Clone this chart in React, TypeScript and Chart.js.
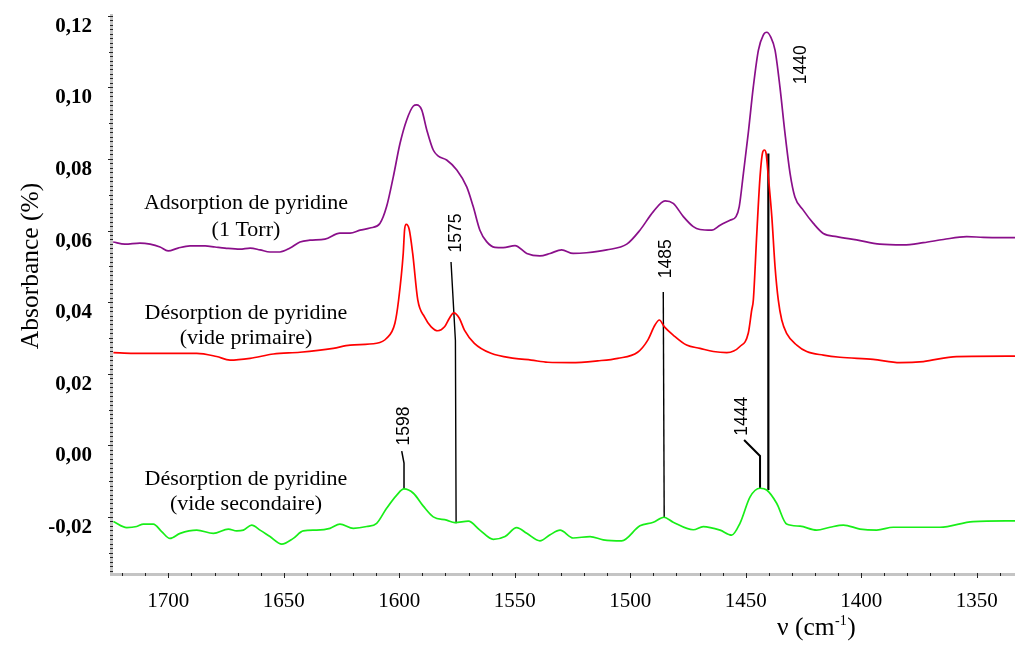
import React, { useEffect, useRef } from "react";
import { Chart, registerables } from "chart.js";

Chart.register(...registerables);

// ---- Spectra (wavenumber cm-1, absorbance) ----
const adsorptionNu = [1723.9, 1718.8, 1712.3, 1707.9, 1703.6, 1700.1, 1695.8, 1690.6, 1684.1, 1679.8, 1675.5, 1669.0, 1664.6, 1660.3, 1656.0, 1651.7, 1647.3, 1643.0, 1638.7, 1632.2, 1625.7, 1621.3, 1617.0, 1612.7, 1608.4, 1605.5, 1602.6, 1599.7, 1596.8, 1593.9, 1592.5, 1590.3, 1588.1, 1585.3, 1583.1, 1579.5, 1575.1, 1570.8, 1568.0, 1565.1, 1562.2, 1558.6, 1555.0, 1549.9, 1544.8, 1539.1, 1534.7, 1529.7, 1524.7, 1518.9, 1510.2, 1501.5, 1495.8, 1490.0, 1484.9, 1481.4, 1477.0, 1472.7, 1469.8, 1464.7, 1461.1, 1456.8, 1454.2, 1452.8, 1451.0, 1448.9, 1446.7, 1444.5, 1442.4, 1440.9, 1439.2, 1437.3, 1435.2, 1433.0, 1430.8, 1428.7, 1425.1, 1420.7, 1416.4, 1410.6, 1402.0, 1391.9, 1381.8, 1373.1, 1364.4, 1354.3, 1347.1, 1333.4];
const adsorptionAbs = [0.0568, 0.0562, 0.0565, 0.0562, 0.0554, 0.0543, 0.0551, 0.0557, 0.0557, 0.0554, 0.0551, 0.0548, 0.0551, 0.0546, 0.0540, 0.0540, 0.0551, 0.0568, 0.0573, 0.0576, 0.0593, 0.0593, 0.0601, 0.0607, 0.0620, 0.0667, 0.0750, 0.0843, 0.0909, 0.0948, 0.0951, 0.0937, 0.0881, 0.0825, 0.0808, 0.0797, 0.0769, 0.0722, 0.0667, 0.0601, 0.0569, 0.0553, 0.0552, 0.0558, 0.0536, 0.0529, 0.0536, 0.0546, 0.0536, 0.0538, 0.0546, 0.0562, 0.0601, 0.0653, 0.0683, 0.0676, 0.0639, 0.0611, 0.0603, 0.0601, 0.0615, 0.0629, 0.0639, 0.0667, 0.0760, 0.0872, 0.1002, 0.1104, 0.1146, 0.1154, 0.1141, 0.1104, 0.1002, 0.0872, 0.0760, 0.0694, 0.0657, 0.0620, 0.0592, 0.0583, 0.0574, 0.0562, 0.0560, 0.0566, 0.0575, 0.0583, 0.0581, 0.0580];

const primaireNu = [1723.8, 1715.2, 1700.7, 1687.7, 1679.1, 1673.3, 1664.6, 1654.5, 1643.0, 1628.6, 1621.3, 1609.8, 1605.5, 1601.9, 1600.3, 1598.3, 1597.7, 1597.0, 1595.7, 1594.2, 1592.0, 1589.1, 1586.2, 1583.3, 1580.4, 1578.3, 1576.4, 1574.0, 1571.8, 1567.5, 1560.3, 1550.1, 1542.9, 1535.7, 1525.6, 1514.1, 1505.4, 1496.8, 1492.4, 1489.3, 1487.4, 1485.2, 1481.4, 1475.6, 1469.8, 1464.0, 1458.2, 1452.5, 1448.9, 1447.4, 1446.7, 1445.2, 1443.8, 1442.6, 1441.9, 1441.2, 1440.2, 1438.7, 1437.3, 1435.9, 1434.4, 1432.3, 1427.9, 1423.6, 1416.4, 1409.2, 1394.8, 1383.2, 1373.1, 1358.7, 1333.4];
const primaireAbs = [0.0259, 0.0257, 0.0257, 0.0257, 0.0248, 0.0238, 0.0243, 0.0255, 0.0260, 0.0271, 0.0280, 0.0285, 0.0299, 0.0341, 0.0406, 0.0536, 0.0603, 0.0617, 0.0603, 0.0536, 0.0406, 0.0359, 0.0331, 0.0320, 0.0331, 0.0355, 0.0370, 0.0355, 0.0322, 0.0285, 0.0257, 0.0243, 0.0238, 0.0232, 0.0231, 0.0236, 0.0243, 0.0260, 0.0294, 0.0336, 0.0350, 0.0331, 0.0308, 0.0280, 0.0271, 0.0262, 0.0259, 0.0276, 0.0313, 0.0378, 0.0406, 0.0592, 0.0750, 0.0820, 0.0825, 0.0816, 0.0750, 0.0639, 0.0499, 0.0406, 0.0350, 0.0313, 0.0280, 0.0262, 0.0252, 0.0246, 0.0240, 0.0231, 0.0234, 0.0248, 0.0249];

const secondaireNu = [1723.8, 1718.0, 1713.7, 1710.8, 1706.5, 1702.9, 1699.3, 1694.9, 1687.7, 1680.5, 1674.0, 1670.4, 1667.5, 1663.9, 1660.3, 1656.0, 1650.9, 1645.9, 1641.6, 1635.8, 1630.0, 1625.7, 1619.9, 1614.1, 1609.8, 1605.5, 1601.1, 1598.0, 1593.9, 1589.6, 1585.3, 1579.5, 1575.9, 1570.1, 1565.1, 1559.3, 1554.2, 1549.2, 1544.8, 1539.1, 1534.7, 1530.4, 1524.7, 1517.4, 1511.7, 1503.7, 1495.8, 1490.0, 1485.4, 1481.4, 1472.7, 1468.4, 1461.1, 1456.1, 1452.5, 1448.1, 1443.8, 1440.9, 1436.6, 1432.3, 1426.5, 1419.3, 1413.5, 1407.7, 1400.5, 1393.3, 1386.1, 1365.9, 1351.5, 1333.4];
const secondaireAbs = [-0.0213, -0.0230, -0.0227, -0.0220, -0.0220, -0.0241, -0.0260, -0.0246, -0.0237, -0.0246, -0.0234, -0.0239, -0.0237, -0.0223, -0.0237, -0.0255, -0.0276, -0.0260, -0.0239, -0.0237, -0.0232, -0.0220, -0.0232, -0.0227, -0.0218, -0.0176, -0.0139, -0.0122, -0.0134, -0.0170, -0.0200, -0.0209, -0.0216, -0.0212, -0.0237, -0.0263, -0.0255, -0.0230, -0.0246, -0.0267, -0.0250, -0.0237, -0.0259, -0.0255, -0.0264, -0.0267, -0.0225, -0.0215, -0.0201, -0.0215, -0.0236, -0.0227, -0.0237, -0.0251, -0.0218, -0.0144, -0.0120, -0.0125, -0.0162, -0.0220, -0.0226, -0.0237, -0.0229, -0.0223, -0.0234, -0.0237, -0.0229, -0.0229, -0.0213, -0.0211];

// ---- Series captions ----
const captionLines = [
  ["Adsorption de pyridine", "(1 Torr)"],
  ["Désorption de pyridine", "(vide primaire)"],
  ["Désorption de pyridine", "(vide secondaire)"],
];
const captionNu = [1666.4, 1666.4, 1666.4];
const captionAbs = [
  [0.0659, 0.0584],
  [0.0353, 0.0283],
  [-0.0111, -0.0181],
];

// ---- Peak annotations ----
const peakLabels = ["1575", "1485", "1440", "1598", "1444"];
const peakLabelNu = [1576.0, 1484.9, 1426.3, 1598.5, 1451.9];
const peakLabelAbs = [0.0593, 0.0521, 0.1063, 0.0054, 0.0081];
const leaderNu = [
  [1577.6, 1575.7, 1575.4],
  [1485.7, 1485.3],
  [1440.2, 1440.2],
  [1598.95, 1597.96, 1597.96],
  [1450.7, 1443.8, 1443.8],
];
const leaderAbs = [
  [0.0512, 0.0293, -0.0218],
  [0.0428, -0.0201],
  [0.0815, -0.0125],
  [-0.0016, -0.0050, -0.0122],
  [0.0015, -0.0030, -0.0120],
];
const leaderWidths = [1.4, 1.4, 2.2, 1.5, 2.0];

// ---- Axes ----
const xMin = 1333.4;
const xMax = 1724.4;
const yMin = -0.0354;
const yMax = 0.1205;
const xTickValues = [1700, 1650, 1600, 1550, 1500, 1450, 1400, 1350];
const xTickLabels = ["1700", "1650", "1600", "1550", "1500", "1450", "1400", "1350"];
const yTickValues = [0.12, 0.1, 0.08, 0.06, 0.04, 0.02, 0.0, -0.02];
const yTickLabels = ["0,12", "0,10", "0,08", "0,06", "0,04", "0,02", "0,00", "-0,02"];
const yTitle = "Absorbance (%)";
const xTitleMain = "ν (cm";
const xTitleSup = "-1";
const xTitleEnd = ")";

const SERIF = '"Liberation Serif", "Times New Roman", serif';
const SANS = '"Liberation Sans", Arial, sans-serif';

function toPoints(xs: number[], ys: number[]) {
  return xs.map((x, i) => ({ x, y: ys[i] }));
}

const decorPlugin = {
  id: "decor",
  afterDatasetsDraw(chart: any) {
    const ctx = chart.ctx as CanvasRenderingContext2D;
    const xs = chart.scales.x;
    const ys = chart.scales.y;
    const area = chart.chartArea;
    ctx.save();

    // captions
    ctx.fillStyle = "#000";
    ctx.font = `22px ${SERIF}`;
    ctx.textAlign = "center";
    ctx.textBaseline = "alphabetic";
    captionLines.forEach((lines, i) => {
      lines.forEach((t, j) => {
        ctx.fillText(t, xs.getPixelForValue(captionNu[i]), ys.getPixelForValue(captionAbs[i][j]));
      });
    });

    // peak labels (rotated)
    ctx.font = `17.5px ${SANS}`;
    ctx.textAlign = "center";
    ctx.textBaseline = "middle";
    peakLabels.forEach((t, i) => {
      ctx.save();
      ctx.translate(xs.getPixelForValue(peakLabelNu[i]), ys.getPixelForValue(peakLabelAbs[i]));
      ctx.rotate(-Math.PI / 2);
      ctx.fillText(t, 0, 1);
      ctx.restore();
    });
    ctx.restore();
  },
  afterDraw(chart: any) {
    const ctx = chart.ctx as CanvasRenderingContext2D;
    const xs = chart.scales.x;
    const ys = chart.scales.y;
    const area = chart.chartArea;
    ctx.save();

    // axis lines (gray, thick)
    ctx.strokeStyle = "#c4c4c4";
    ctx.lineWidth = 3;
    ctx.beginPath();
    ctx.moveTo(area.left - 0.5, area.top);
    ctx.lineTo(area.left - 0.5, area.bottom + 2.5);
    ctx.lineTo(area.right, area.bottom + 2.5);
    ctx.stroke();

    // ticks
    ctx.strokeStyle = "#222";
    ctx.lineWidth = 1;
    ctx.beginPath();
    for (let v = 1340; v <= 1720; v += 10) {
      const px = Math.round(xs.getPixelForValue(v)) + 0.5;
      const major = v % 50 === 0;
      ctx.moveTo(px, area.bottom + 1);
      ctx.lineTo(px, area.bottom + (major ? 6 : 4));
    }
    for (let k = -28; k <= 96; k++) {
      const v = k * 0.00125;
      const py = Math.round(ys.getPixelForValue(v)) + 0.5;
      const major = k % 16 === 0;
      const mid = k % 8 === 0;
      ctx.moveTo(area.left - (major ? 4 : mid ? 3 : 2), py);
      ctx.lineTo(area.left + 1, py);
    }
    ctx.stroke();

    // tick labels
    ctx.fillStyle = "#000";
    ctx.font = `21px ${SERIF}`;
    ctx.textAlign = "center";
    ctx.textBaseline = "alphabetic";
    xTickValues.forEach((v, i) => {
      ctx.fillText(xTickLabels[i], xs.getPixelForValue(v), area.bottom + 35);
    });
    ctx.font = `bold 21px ${SERIF}`;
    ctx.textAlign = "right";
    yTickValues.forEach((v, i) => {
      ctx.fillText(yTickLabels[i], area.left - 20, ys.getPixelForValue(v) + 16);
    });

    // y title
    ctx.font = `25.5px ${SERIF}`;
    ctx.textAlign = "center";
    ctx.save();
    ctx.translate(38, 266);
    ctx.rotate(-Math.PI / 2);
    ctx.fillText(yTitle, 0, 0);
    ctx.restore();

    // x title with superscript
    ctx.textAlign = "left";
    const baseY = 635;
    let x = 777;
    ctx.font = `25.5px ${SERIF}`;
    ctx.fillText(xTitleMain, x, baseY);
    x += ctx.measureText(xTitleMain).width;
    ctx.font = `14px ${SERIF}`;
    ctx.fillText(xTitleSup, x + 0.5, baseY - 10);
    x += ctx.measureText(xTitleSup).width + 1;
    ctx.font = `25.5px ${SERIF}`;
    ctx.fillText(xTitleEnd, x, baseY);

    ctx.restore();
  },
};

export default function App() {
  const ref = useRef<HTMLCanvasElement | null>(null);

  useEffect(() => {
    document.body.style.margin = "0";
    const canvas = ref.current;
    if (!canvas) return;

    const datasets: any[] = [
      {
        label: "Adsorption de pyridine (1 Torr)",
        data: toPoints(adsorptionNu, adsorptionAbs),
        borderColor: "#8a0f8a",
        borderWidth: 1.7,
        cubicInterpolationMode: "monotone",
      },
      {
        label: "Désorption de pyridine (vide primaire)",
        data: toPoints(primaireNu, primaireAbs),
        borderColor: "#ff0000",
        borderWidth: 1.7,
        cubicInterpolationMode: "monotone",
      },
      {
        label: "Désorption de pyridine (vide secondaire)",
        data: toPoints(secondaireNu, secondaireAbs),
        borderColor: "#18ee18",
        borderWidth: 1.7,
        cubicInterpolationMode: "monotone",
      },
    ];
    leaderNu.forEach((xsArr, i) => {
      datasets.push({
        label: "leader " + peakLabels[i],
        data: toPoints(xsArr, leaderAbs[i]),
        borderColor: "#000",
        borderWidth: leaderWidths[i],
        tension: 0,
      });
    });

    const chart = new Chart(canvas, {
      type: "line",
      data: { datasets },
      options: {
        responsive: false,
        animation: false,
        devicePixelRatio: 1,
        layout: { padding: { left: 112, top: 14, right: 0, bottom: 76 } },
        scales: {
          x: { type: "linear", reverse: true, min: xMin, max: xMax, display: false },
          y: { type: "linear", min: yMin, max: yMax, display: false },
        },
        elements: { point: { radius: 0 } },
        plugins: { legend: { display: false }, tooltip: { enabled: false } },
      },
      plugins: [decorPlugin],
    } as any);

    return () => chart.destroy();
  }, []);

  return (
    <canvas
      ref={ref}
      width={1015}
      height={648}
      style={{ display: "block", width: 1015, height: 648, background: "#fff" }}
    />
  );
}
